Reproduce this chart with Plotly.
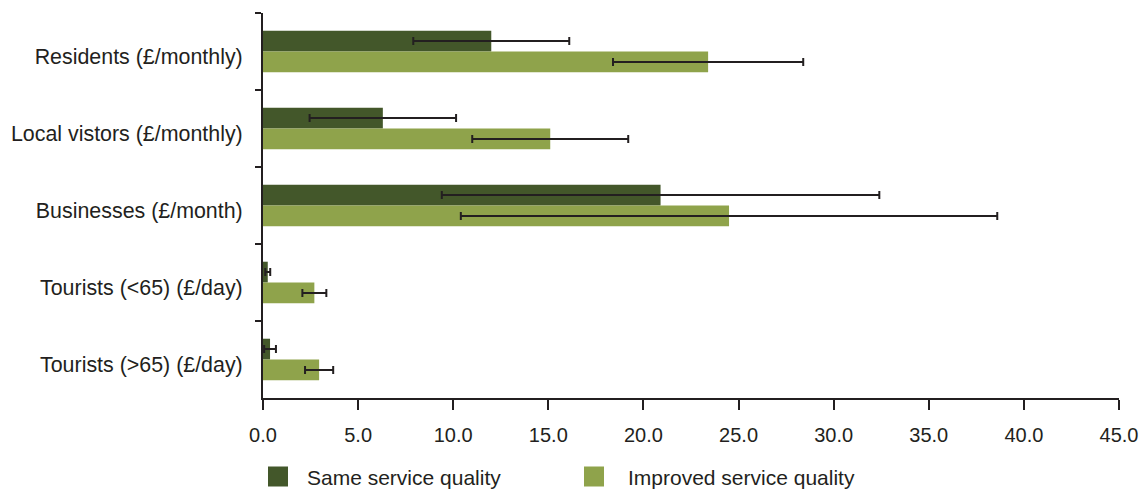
import plotly.graph_objects as go

# Willingness-to-pay estimates with confidence ranges
categories = [
    "Residents (£/monthly)",
    "Local vistors (£/monthly)",
    "Businesses (£/month)",
    "Tourists (<65) (£/day)",
    "Tourists (>65) (£/day)",
]
same_quality = [12.0, 6.3, 20.9, 0.25, 0.37]
same_err = [4.1, 3.85, 11.5, 0.13, 0.31]
improved_quality = [23.4, 15.1, 24.5, 2.7, 2.95]
improved_err = [5.0, 4.1, 14.1, 0.63, 0.74]
x_ticks = [0, 5, 10, 15, 20, 25, 30, 35, 40, 45]
series_names = ["Same service quality", "Improved service quality"]

DARK = "#43572A"
LIGHT = "#8FA34B"
INK = "#231F20"
FONT = "Liberation Sans, Arial, sans-serif"

W, H = 1143, 490
ML, MR, MT, MB = 263, 24, 13, 92
PW, PH = W - ML - MR, H - MT - MB

fig = go.Figure()
for name, vals, errs, col in [
    (series_names[0], same_quality, same_err, DARK),
    (series_names[1], improved_quality, improved_err, LIGHT),
]:
    fig.add_trace(go.Bar(
        y=categories, x=vals, orientation="h", name=name,
        marker=dict(color=col, line=dict(width=0)),
        error_x=dict(type="data", array=errs, visible=True,
                     color=INK, thickness=2, width=4),
        showlegend=False,
    ))


def px_x(p):
    return (p - ML) / PW


def px_y(p):
    return (MT + PH - p) / PH


# legend: square keys with labels below the axis
shapes, annotations = [], []
for (key_left, text_left), name, col in zip(
        [(268, 305), (584, 626)], series_names, [DARK, LIGHT]):
    shapes.append(dict(
        type="rect", xref="paper", yref="paper",
        x0=px_x(key_left), x1=px_x(key_left + 20),
        y0=px_y(486.5), y1=px_y(466.5),
        fillcolor=col, line=dict(width=0),
    ))
    annotations.append(dict(
        xref="paper", yref="paper", x=px_x(text_left), y=px_y(477),
        xanchor="left", yanchor="middle", text=name, showarrow=False,
        font=dict(family=FONT, size=21, color=INK),
    ))

fig.update_layout(
    width=W, height=H,
    margin=dict(l=ML, r=MR, t=MT, b=MB, autoexpand=False),
    paper_bgcolor="white", plot_bgcolor="white",
    barmode="group", bargap=0.46, bargroupgap=0,
    font=dict(family=FONT, size=20, color=INK),
    showlegend=False,
    shapes=shapes, annotations=annotations,
)
fig.update_xaxes(
    range=[0, 45], tickmode="array", tickvals=x_ticks,
    tickformat=".1f", showgrid=False, zeroline=False,
    showline=True, linecolor=INK, linewidth=2,
    ticks="outside", ticklen=10, tickwidth=2, tickcolor=INK,
    tickfont=dict(size=20, color=INK), fixedrange=True,
    automargin=False, ticklabelstandoff=8,
)
fig.update_yaxes(
    categoryorder="array", categoryarray=categories, autorange="reversed",
    tickson="boundaries", showgrid=False, zeroline=False,
    showline=True, linecolor=INK, linewidth=2,
    ticks="outside", ticklen=6, tickwidth=2, tickcolor=INK,
    tickfont=dict(size=21.4, color=INK), fixedrange=True,
    automargin=False, ticklabelstandoff=14, ticklabelshift=-5,
)

fig.write_html("out.html")
